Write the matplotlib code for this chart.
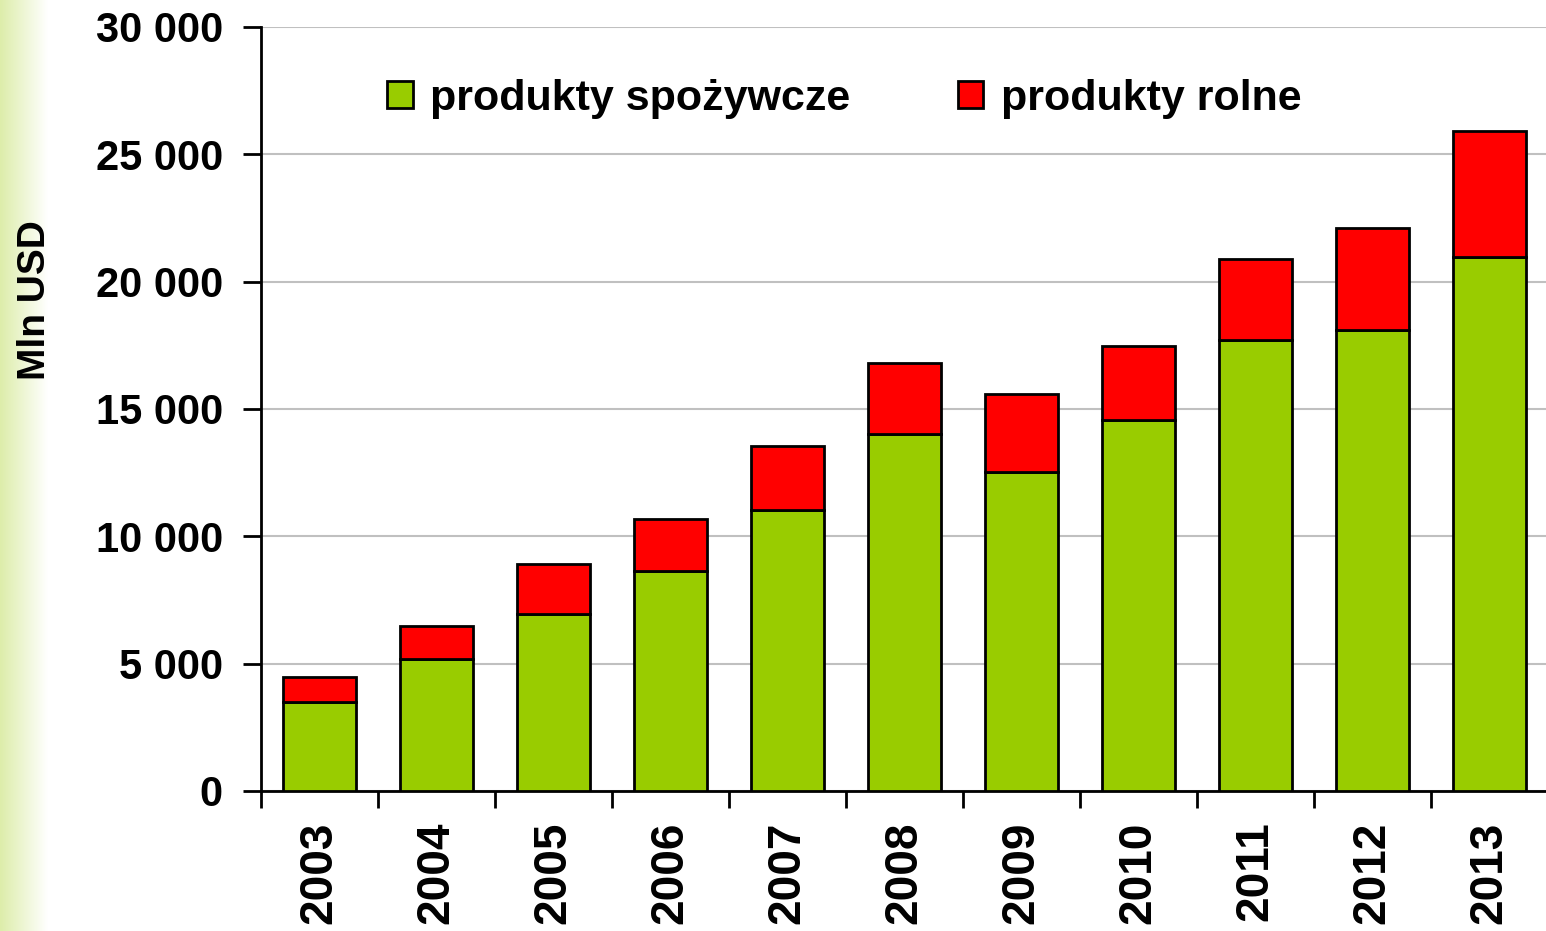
import numpy as np
import matplotlib
matplotlib.use('Agg')
import matplotlib.pyplot as plt
from matplotlib.colors import LinearSegmentedColormap
from matplotlib.ticker import FuncFormatter, FixedLocator

# dane (mln USD)
lata = ['2003', '2004', '2005', '2006', '2007', '2008', '2009', '2010', '2011', '2012', '2013']
spozywcze = [3500, 5200, 6950, 8650, 11030, 14020, 12520, 14570, 17700, 18100, 20970]
razem = [4470, 6480, 8910, 10680, 13550, 16800, 15590, 17480, 20890, 22110, 25910]
rolne = [r - s for r, s in zip(razem, spozywcze)]

plt.rcParams['font.family'] = ['Liberation Sans', 'DejaVu Sans']
plt.rcParams['font.weight'] = 'bold'

fig = plt.figure(figsize=(15.46, 9.31), dpi=100)

# zielony pasek z gradientem po lewej stronie
bg = fig.add_axes([0, 0, 48 / 1546, 1], zorder=-1)
cmap = LinearSegmentedColormap.from_list('g', ['#DDEDAA', '#FFFFFF'])
bg.imshow(np.linspace(0, 1, 100).reshape(1, -1), aspect='auto', cmap=cmap)
bg.axis('off')

ax = fig.add_axes([261 / 1546, 1 - 791 / 931, 1287 / 1546, 764 / 931])

x = np.arange(len(lata))
ax.bar(x, spozywcze, width=0.63, color='#99CC00', edgecolor='black', linewidth=2,
       label='produkty spożywcze', zorder=3)
ax.bar(x, rolne, width=0.63, bottom=spozywcze, color='#FF0000', edgecolor='black',
       linewidth=2, label='produkty rolne', zorder=3)

ax.set_xlim(-0.5, len(lata) - 0.5)
ax.set_ylim(0, 30000)
ax.set_yticks(range(0, 30001, 5000))
ax.yaxis.set_major_formatter(FuncFormatter(lambda v, p: f'{int(v):,}'.replace(',', ' ')))
ax.grid(axis='y', color='#C0C0C0', linewidth=1.5, zorder=0)

ax.set_xticks(x)
ax.set_xticklabels(lata, rotation=90)
ax.xaxis.set_minor_locator(FixedLocator(np.arange(-0.5, len(lata) - 0.5, 1)))
ax.tick_params(axis='x', which='major', length=0, pad=22, labelsize=33)
ax.tick_params(axis='x', which='minor', length=12, width=2, direction='out')
ax.tick_params(axis='y', length=13, width=2, pad=14.5, labelsize=30)

for s in ['top', 'right']:
    ax.spines[s].set_visible(False)
for s in ['left', 'bottom']:
    ax.spines[s].set_linewidth(2)

ax.set_ylabel('Mln USD', fontsize=28, fontweight='bold')
ax.yaxis.set_label_coords(-0.162, 0.643)

ax.legend(loc='center', bbox_to_anchor=(0.453, 0.906), ncol=2, frameon=False,
          fontsize=31, handlelength=0.6, handleheight=0.6, handletextpad=0.4,
          columnspacing=2.5)

fig.savefig('out.png', dpi=100)
